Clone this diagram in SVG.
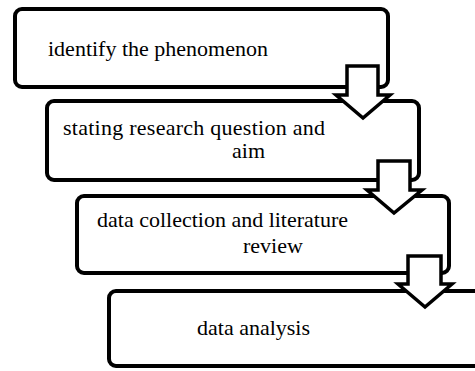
<svg xmlns="http://www.w3.org/2000/svg" width="475" height="371" viewBox="0 0 475 371">
<style>
.box{fill:#fff;stroke:#000;stroke-width:4}
.arr{fill:#fff;stroke:#000;stroke-width:3.5;stroke-linejoin:miter}
.t{font-size:22px;fill:#000}
</style>
<rect width="475" height="371" fill="#fff"/>
<g font-family="'Liberation Serif', 'Times New Roman', serif">
<g id="node1"><rect class="box" x="15" y="9" width="373" height="78" rx="7"/><text class="t" x="48" y="56">identify the phenomenon</text></g>
<g id="node2"><rect class="box" x="47" y="101" width="372" height="79" rx="7"/><text class="t" x="63" y="135" textLength="262" lengthAdjust="spacing">stating research question and</text><text class="t" x="232" y="158">aim</text></g>
<g id="node3"><rect class="box" x="77" y="196" width="372" height="77" rx="7"/><text class="t" x="97" y="227">data collection and literature</text><text class="t" x="243" y="253">review</text></g>
<g id="node4"><rect class="box" x="109" y="291" width="380" height="75" rx="7"/><text class="t" x="197" y="335">data analysis</text></g>
</g>
<g id="connectors">
<polygon class="arr" points="347,66 378,66 378,95 390,95 363,118 336,95 347,95"/>
<polygon class="arr" points="378,161 410,161 410,190 422,190 394,213 367,190 378,190"/>
<polygon class="arr" points="408,256 441,256 441,284 452,284 425,307 398,284 408,284"/>
</g>
</svg>
